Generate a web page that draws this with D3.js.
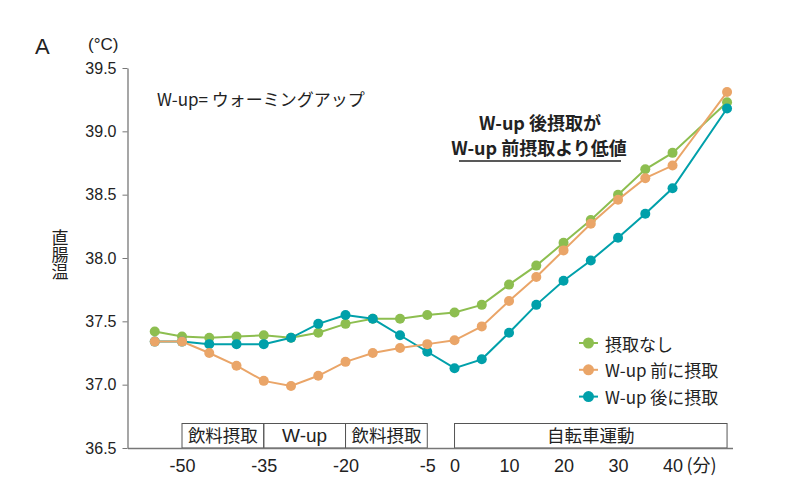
<!DOCTYPE html>
<html>
<head>
<meta charset="utf-8">
<script src="https://cdn.jsdelivr.net/npm/d3@7"></script>
<style>
  html, body { margin: 0; padding: 0; background: #fff; }
  svg { display: block; }
  .jp { font-family: "Noto Sans CJK JP", "Noto Sans", sans-serif; }
  .num { font-family: "Liberation Sans", Arial, sans-serif; }
  .narrow { font-family: "Liberation Sans Narrow", "Liberation Sans", Arial, sans-serif; }
</style>
</head>
<body>
<svg id="chart" width="800" height="503"></svg>
<script>
// ---- data ----
const times = [-55, -50, -45, -40, -35, -30, -25, -20, -15, -10, -5, 0, 5, 10, 15, 20, 25, 30, 35, 40, 50];
const seriesNames = ["摂取なし", "W-up 前に摂取", "W-up 後に摂取"];
const noIntake   = [37.42, 37.38, 37.37, 37.38, 37.39, 37.37, 37.41, 37.48, 37.52, 37.52, 37.55, 37.57, 37.63, 37.79, 37.94, 38.12, 38.30, 38.50, 38.70, 38.83, 39.23];
const beforeWup  = [37.34, 37.34, 37.25, 37.15, 37.03, 36.99, 37.07, 37.18, 37.25, 37.29, 37.32, 37.35, 37.46, 37.66, 37.85, 38.06, 38.27, 38.46, 38.63, 38.73, 39.31];
const afterWup   = [37.34, 37.34, 37.32, 37.32, 37.32, 37.37, 37.48, 37.55, 37.52, 37.39, 37.26, 37.13, 37.20, 37.41, 37.63, 37.82, 37.98, 38.16, 38.35, 38.55, 39.18];
const seriesColors = ["#8dbe50", "#eaa568", "#00a0aa"];
const xTickValues = [-50, -35, -20, -5, 0, 10, 20, 30, 40];
const yTickValues = [36.5, 37.0, 37.5, 38.0, 38.5, 39.0, 39.5];
const phaseLabels = ["飲料摂取", "W-up", "飲料摂取", "自転車運動"];
const phaseStarts = [-50, -35, -20, 0];
const phaseEnds   = [-35, -20, -5, 50];

// ---- scales ----
const svg = d3.select("#chart");
const x = d3.scaleLinear().domain([-60, 51]).range([127.5, 732.5]);
const y = d3.scaleLinear().domain([36.5, 39.5]).range([448, 68]);

// ---- phase boxes ----
const boxTop = 423.5;
const phases = phaseLabels.map((l, i) => ({label: l, s: phaseStarts[i], e: phaseEnds[i]}));
const pg = svg.append("g");
pg.selectAll("rect").data(phases).join("rect")
  .attr("x", d => x(d.s)).attr("y", boxTop)
  .attr("width", d => x(d.e) - x(d.s)).attr("height", y(36.5) - boxTop)
  .attr("fill", "none").attr("stroke", "#555").attr("stroke-width", 1);
pg.selectAll("text").data(phases).join("text")
  .attr("class", d => d.label === "W-up" ? "narrow" : "jp")
  .attr("x", d => (x(d.s) + x(d.e)) / 2).attr("y", 442)
  .attr("text-anchor", "middle")
  .attr("font-size", d => d.label === "W-up" ? 19 : 17.5)
  .attr("fill", "#222")
  .text(d => d.label);

// ---- axes ----
const yAxis = svg.append("g").attr("transform", `translate(${x(-60)},0)`)
  .call(d3.axisLeft(y).tickValues(yTickValues).tickFormat(d3.format(".1f")).tickSize(5).tickSizeOuter(0).tickPadding(6));
yAxis.select(".domain").attr("stroke", "#777").attr("stroke-width", 1.3);
yAxis.selectAll(".tick line").attr("stroke", "#777");
yAxis.selectAll(".tick text").attr("class", "num").attr("font-size", 16).attr("fill", "#222");

const xAxis = svg.append("g").attr("transform", `translate(0,${y(36.5)})`)
  .call(d3.axisBottom(x).tickValues(xTickValues).tickFormat(d => String(d)).tickSize(0).tickSizeOuter(0).tickPadding(11));
xAxis.select(".domain").attr("stroke", "#777").attr("stroke-width", 1.5);
xAxis.selectAll(".tick text").attr("class", "narrow").attr("font-size", 18).attr("fill", "#222");
svg.append("text").attr("class", "jp")
  .attr("x", x(40) + 14).attr("y", 472).attr("font-size", 18).attr("fill", "#222")
  .text("(分)");

// ---- series ----
const seriesData = [noIntake, beforeWup, afterWup];
const drawOrder = [0, 2, 1];
const line = d3.line().x((d, i) => x(times[i])).y(d => y(d));
drawOrder.forEach(k => {
  const g = svg.append("g");
  g.append("path").datum(seriesData[k]).attr("d", line)
    .attr("fill", "none").attr("stroke", seriesColors[k]).attr("stroke-width", 2);
  g.selectAll("circle").data(seriesData[k]).join("circle")
    .attr("cx", (d, i) => x(times[i])).attr("cy", d => y(d)).attr("r", 5)
    .attr("fill", seriesColors[k]);
});

// ---- legend ----
const lg = svg.append("g").attr("transform", "translate(579,343)");
seriesNames.forEach((n, i) => {
  const row = lg.append("g").attr("transform", `translate(0,${i * 26.8})`);
  row.append("line").attr("x1", 0).attr("x2", 19).attr("stroke", seriesColors[i]).attr("stroke-width", 2);
  row.append("circle").attr("cx", 9.5).attr("r", 5.5).attr("fill", seriesColors[i]);
  row.append("text").attr("class", "jp").attr("x", 26).attr("y", 0)
    .attr("dominant-baseline", "central").attr("font-size", 17).attr("fill", "#222").text(n);
});

// ---- annotations ----
svg.append("text").attr("class", "num").attr("x", 35).attr("y", 54).attr("font-size", 22).attr("fill", "#222").text("A");
svg.append("text").attr("class", "num").attr("x", 88).attr("y", 50).attr("font-size", 17).attr("fill", "#222").text("(°C)");
svg.append("text").attr("class", "jp").attr("x", 157).attr("y", 106).attr("font-size", 17).attr("fill", "#222").text("W-up= ウォーミングアップ");

svg.append("text").attr("class", "jp").attr("font-size", 17).attr("fill", "#222")
  .attr("x", 60).attr("y", 229)
  .style("writing-mode", "vertical-rl")
  .text("直腸温");

const ann = svg.append("g").attr("class", "jp").attr("font-weight", "bold").attr("font-size", 18).attr("fill", "#222").attr("text-anchor", "middle");
ann.append("text").attr("x", 540).attr("y", 130).text("W-up 後摂取が");
ann.append("text").attr("x", 539).attr("y", 155).text("W-up 前摂取より低値");
svg.append("line").attr("x1", 459).attr("x2", 621).attr("y1", 161).attr("y2", 161).attr("stroke", "#222").attr("stroke-width", 1.5);
</script>
</body>
</html>
